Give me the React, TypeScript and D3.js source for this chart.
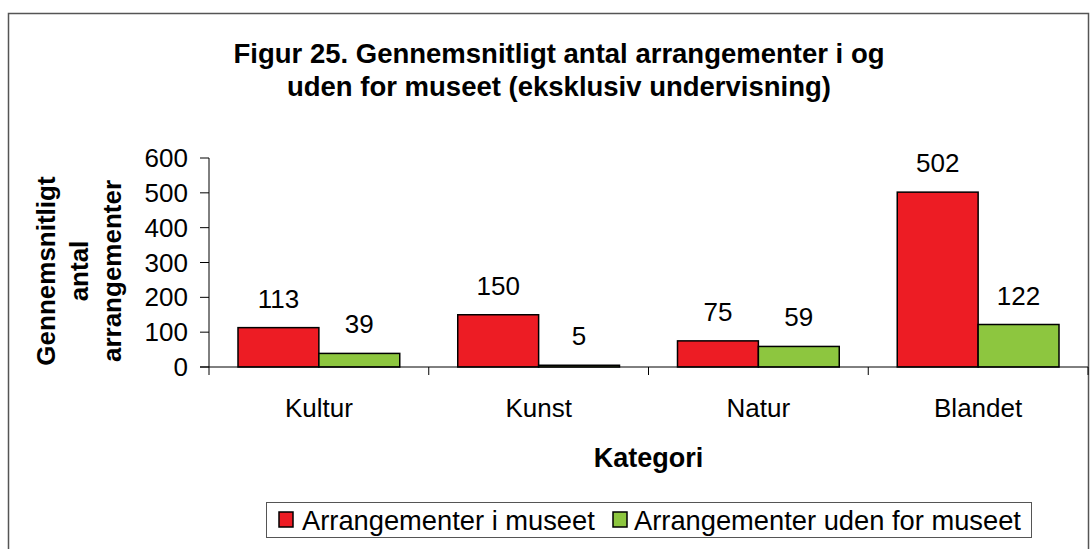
import React from "react";
import * as d3 from "d3";

const categories = ["Kultur", "Kunst", "Natur", "Blandet"];
const seriesNames = ["Arrangementer i museet", "Arrangementer uden for museet"];
const inside = [113, 150, 75, 502];
const outside = [39, 5, 59, 122];
const yTicks = [0, 100, 200, 300, 400, 500, 600];
const colors = ["#ED1C24", "#8DC63F"];

export default function App() {
  const W = 1090, H = 549;
  const left = 209, right = 1088, top = 158, bottom = 367;
  const x = d3.scaleBand<string>().domain(categories).range([left, right]).paddingInner(0).paddingOuter(0);
  const y = d3.scaleLinear().domain([0, 600]).range([bottom, top]);
  const groupPad = 29;
  const inner = d3.scaleBand<number>().domain([0, 1]).range([0, x.bandwidth() - 2 * groupPad]);
  const series = [inside, outside];
  const font = "Arial, 'Liberation Sans', sans-serif";
  return (
    <svg width={W} height={H} style={{ position: "absolute", left: 0, top: 0 }} fontFamily={font}>
      <rect x={0} y={0} width={W} height={H} fill="#fff" />
      <rect x={8.5} y={13.5} width={1080} height={560} fill="#fff" stroke="#555" strokeWidth={1.5} />
      <text x={559} y={63} textAnchor="middle" fontWeight="bold" fontSize={27.5}>Figur 25. Gennemsnitligt antal arrangementer i og</text>
      <text x={559} y={96} textAnchor="middle" fontWeight="bold" fontSize={27.5}>uden for museet (eksklusiv undervisning)</text>
      {["Gennemsnitligt", "antal", "arrangementer"].map((t, i) => (
        <text key={t} transform={`translate(${55 + i * 33},271) rotate(-90)`} textAnchor="middle" fontWeight="bold" fontSize={26}>{t}</text>
      ))}
      {series.map((vals, s) =>
        categories.map((c, i) => (
          <rect key={`${s}-${i}`} x={(x(c) as number) + groupPad + (inner(s) as number)} y={y(vals[i])} width={inner.bandwidth()} height={bottom - y(vals[i])} fill={colors[s]} stroke="#000" strokeWidth={1.5} />
        ))
      )}
      {series.map((vals, s) =>
        categories.map((c, i) => (
          <text key={`l${s}-${i}`} x={(x(c) as number) + groupPad + (inner(s) as number) + inner.bandwidth() / 2} y={y(vals[i]) - 20} textAnchor="middle" fontSize={26}>{vals[i]}</text>
        ))
      )}
      <line x1={left} x2={left} y1={top} y2={bottom} stroke="#000" strokeWidth={1} />
      {yTicks.map((t) => (
        <g key={t}>
          <line x1={left - 9} x2={left} y1={y(t)} y2={y(t)} stroke="#000" />
          <text x={left - 21} y={y(t) + 9} textAnchor="end" fontSize={26}>{t}</text>
        </g>
      ))}
      <line x1={left - 9} x2={right} y1={bottom} y2={bottom} stroke="#000" />
      {[...categories.map((c) => x(c) as number), right].map((v, i) => (
        <line key={i} x1={v} x2={v} y1={bottom} y2={bottom + 8} stroke="#000" />
      ))}
      {categories.map((c) => (
        <text key={c} x={(x(c) as number) + x.bandwidth() / 2} y={417} textAnchor="middle" fontSize={26}>{c}</text>
      ))}
      <text x={(left + right) / 2} y={467} textAnchor="middle" fontWeight="bold" fontSize={27}>Kategori</text>
      <rect x={266.5} y={502.5} width={765} height={35} fill="#fff" stroke="#555" strokeWidth={1} />
      <rect x={279} y={512} width={14} height={15} fill={colors[0]} stroke="#000" strokeWidth={1.5} />
      <text x={302} y={530} fontSize={27.3}>{seriesNames[0]}</text>
      <rect x={613} y={512} width={14} height={15} fill={colors[1]} stroke="#000" strokeWidth={1.5} />
      <text x={634} y={530} fontSize={27.3}>{seriesNames[1]}</text>
    </svg>
  );
}
